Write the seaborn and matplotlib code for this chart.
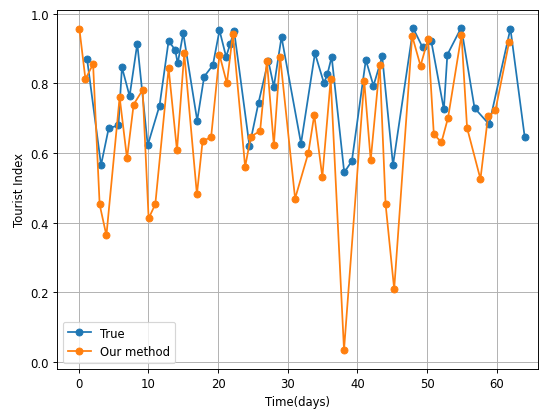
import pandas as pd
import numpy as np
import seaborn as sns
import matplotlib.pyplot as plt

# values
true_days = [1.2, 3.2, 4.3, 5.7, 6.2, 7.3, 8.4, 9.9, 11.6, 12.9, 13.85, 14.2, 15.0,
             17.0, 18.0, 19.25, 20.2, 21.15, 21.75, 22.3, 24.5, 25.8, 27.2, 28.0, 29.1,
             31.9, 33.9, 35.2, 35.7, 36.3, 38.1, 39.2, 41.2, 42.3, 43.55, 45.1, 48.0,
             49.35, 50.6, 52.4, 52.9, 54.9, 56.8, 58.9, 61.95, 64.0]
true_vals = [0.869, 0.565, 0.671, 0.679, 0.846, 0.763, 0.914, 0.622, 0.736, 0.922, 0.895,
             0.857, 0.944, 0.693, 0.819, 0.852, 0.952, 0.876, 0.914, 0.95, 0.62, 0.744,
             0.865, 0.79, 0.933, 0.627, 0.886, 0.80, 0.827, 0.876, 0.544, 0.577, 0.867,
             0.793, 0.877, 0.565, 0.958, 0.903, 0.92, 0.725, 0.882, 0.96, 0.729, 0.682,
             0.957, 0.646]

pred_days = [0.1, 0.96, 2.06, 3.0, 3.97, 5.87, 6.93, 7.88, 9.17, 10.03, 10.99, 12.9, 14.1,
             15.14, 16.96, 17.77, 19.0, 20.2, 21.26, 22.12, 23.88, 24.7, 26.03, 27.0, 28.0,
             28.9, 31.05, 32.95, 33.8, 34.96, 36.16, 38.07, 40.97, 41.9, 43.2, 44.04, 45.27,
             47.85, 49.05, 50.14, 50.96, 52.06, 53.0, 54.93, 55.73, 57.65, 58.74, 59.8, 61.75]
pred_vals = [0.955, 0.812, 0.855, 0.452, 0.363, 0.76, 0.584, 0.739, 0.781, 0.412, 0.453,
             0.843, 0.607, 0.886, 0.481, 0.633, 0.646, 0.882, 0.80, 0.941, 0.56, 0.647,
             0.663, 0.865, 0.622, 0.876, 0.469, 0.60, 0.709, 0.531, 0.812, 0.034, 0.807,
             0.579, 0.853, 0.452, 0.209, 0.936, 0.85, 0.927, 0.653, 0.631, 0.701, 0.939,
             0.672, 0.525, 0.705, 0.722, 0.917]

fig, ax = plt.subplots(figsize=(6.4, 4.88), dpi=84.22)

sns.lineplot(x=true_days, y=true_vals, ax=ax, color="#1f77b4", marker="o", markersize=6,
             markeredgecolor="#1f77b4", label="True")
sns.lineplot(x=pred_days, y=pred_vals, ax=ax, color="#ff7f0e", marker="o", markersize=6,
             markeredgecolor="#ff7f0e", label="Our method")

ax.set_xlim(-3.1, 65.9)
ax.set_ylim(-0.02, 1.01)
ax.grid(True)
ax.set_xlabel("Time(days)")
ax.set_ylabel("Tourist Index")
ax.legend(loc="lower left")

plt.subplots_adjust(left=0.106, right=0.998, top=0.973, bottom=0.1)
plt.savefig("out.png", dpi=84.22)
